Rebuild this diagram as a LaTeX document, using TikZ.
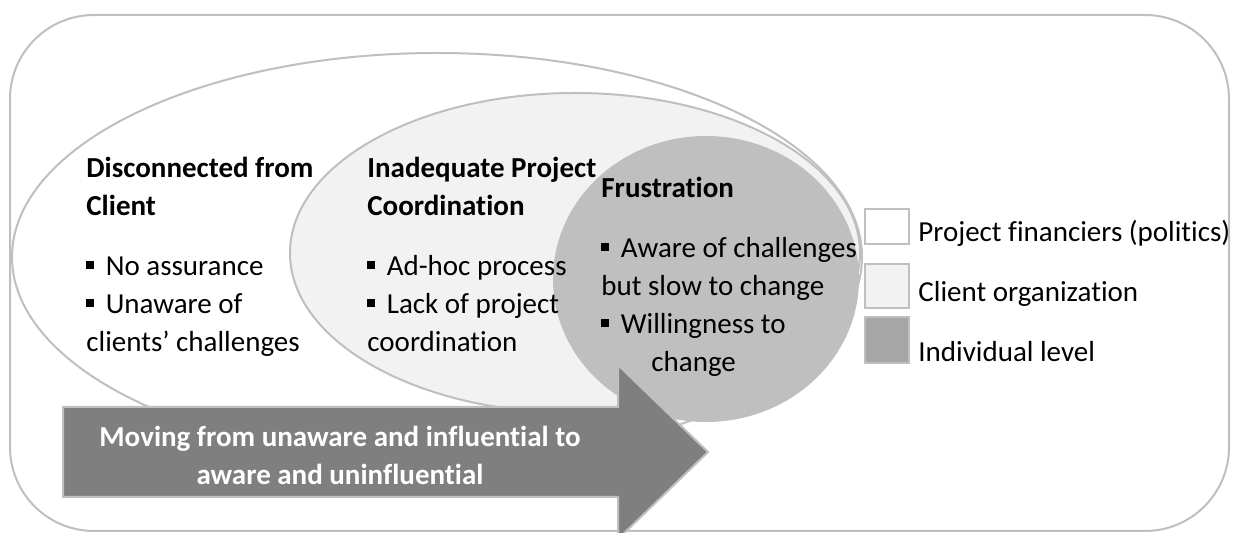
\documentclass[tikz,border=0pt]{standalone}
\usepackage{fontspec}
\setmainfont{Carlito}[Ligatures=CommonOff]
\definecolor{rim}{HTML}{BFBFBF}
\definecolor{orgfill}{HTML}{F2F2F2}
\definecolor{indfill}{HTML}{BFBFBF}
\definecolor{levfill}{HTML}{A6A6A6}
\definecolor{arrfill}{HTML}{7F7F7F}
\newcommand{\sqbul}{\rule[0.23em]{0.27em}{0.27em}\hspace{0.4em}}
\tikzset{
    coltext/.style={anchor=north west, inner sep=0pt, align=left,
        font=\fontsize{14.5}{19}\selectfont},
    legbox/.style={draw=rim, line width=1pt},
    legtext/.style={anchor=base west, inner sep=0pt,
        font=\fontsize{14.5}{19}\selectfont}
}

\begin{document}
\begin{tikzpicture}[x=0.5pt, y=-0.5pt]
    \useasboundingbox (0,0) rectangle (1237,533);

    % frame and the three levels
    \draw[rim, line width=1pt, rounded corners=42pt] (10,15) rectangle (1229,531);
    \draw[rim, line width=1pt, fill=white] (437,257) ellipse [x radius=425, y radius=204];
    \draw[rim, line width=1pt, fill=orgfill] (575,253) ellipse [x radius=285, y radius=160];
    \fill[indfill] (706,279) ellipse [x radius=153, y radius=143];

    % big arrow
    \draw[rim, line width=1pt, fill=arrfill]
        (63,407) -- (618,407) -- (618,365) -- (708,452)
        -- (618,539) -- (618,497) -- (63,497) -- cycle;
    \node[align=center, text=white, inner sep=0pt,
        font=\fontsize{14.5}{19}\selectfont\bfseries] (move) at (340,455)
        {Moving from unaware and influential to\\aware and uninfluential};

    % texts of the levels
    \node[coltext] (discon) at (86,157)
        {\textbf{Disconnected from}\\\textbf{Client}\\[11pt]
         \sqbul No assurance\\\sqbul Unaware of\\clients’ challenges};
    \node[coltext] (coord) at (367,157)
        {\textbf{Inadequate Project}\\\textbf{Coordination}\\[11pt]
         \sqbul Ad-hoc process\\\sqbul Lack of project\\coordination};
    \node[coltext] (frust) at (601,177)
        {\textbf{Frustration}\\[11pt]
         \sqbul Aware of challenges\\but slow to change\\\sqbul Willingness to\\
         \hspace*{25pt}change};

    % legend
    \draw[legbox, fill=white] (865,209) rectangle (909,244);
    \draw[legbox, fill=orgfill] (865,264) rectangle (909,308);
    \draw[legbox, fill=levfill] (865,317) rectangle (909,363);
    \node[legtext] (lfin) at (918,242) {Project financiers (politics)};
    \node[legtext] (lorg) at (918,302) {Client organization};
    \node[legtext] (lind) at (918,362) {Individual level};
\end{tikzpicture}
\end{document}
